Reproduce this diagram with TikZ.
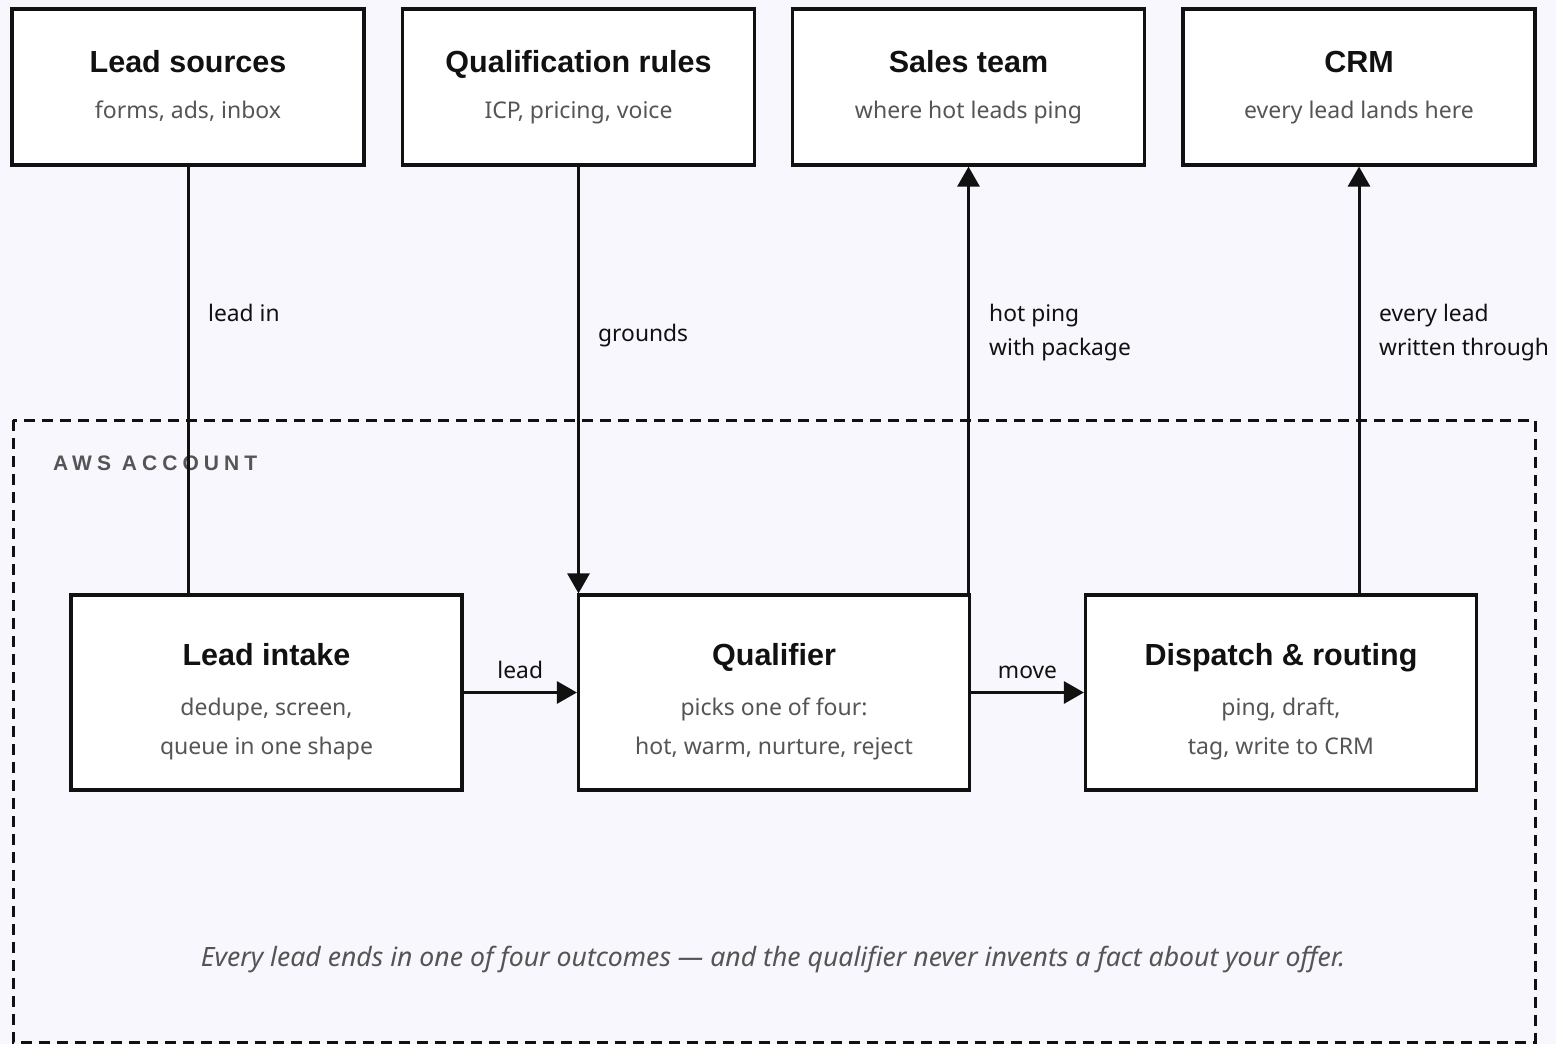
\documentclass[tikz,border=0pt]{standalone}
\usepackage{fontspec}
\setmainfont{Noto Sans}
\newfontfamily\headfont{Liberation Sans}
\newfontfamily\spacedfont[LetterSpace=24]{Liberation Sans}
\usetikzlibrary{arrows.meta,calc}
\definecolor{bg}{RGB}{248,247,253}
\definecolor{ink}{RGB}{17,17,17}
\definecolor{muted}{RGB}{85,85,85}

\begin{document}
\begin{tikzpicture}[x=1pt,y=-1pt,
  box/.style={draw=ink, line width=3.2pt, fill=white, inner sep=0pt},
  topbox/.style={box, minimum width=352pt, minimum height=156pt},
  midbox/.style={box, minimum width=391pt, minimum height=195pt},
  ttl/.style={font=\fontsize{30.5}{34}\selectfont\headfont\bfseries, text=ink, inner sep=0pt, anchor=base},
  sub/.style={font=\fontsize{23}{27}\selectfont, text=muted, inner sep=0pt, anchor=base},
  lbl/.style={font=\fontsize{22.8}{27}\selectfont, text=ink, inner sep=0pt, anchor=base west},
  link/.style={draw=ink, line width=3pt},
  flow/.style={link, -{Triangle[length=20pt,width=22pt]}},
]
% canvas
\fill[bg] (0,0) rectangle (1556,1044);
\useasboundingbox (0,0) rectangle (1556,1044);

% account boundary
\draw[ink, line width=3pt, dash pattern=on 11pt off 7pt] (13,420) rectangle (1535,1042);
\node[anchor=base west, inner sep=0pt, text=muted, font=\fontsize{21}{24}\selectfont\spacedfont\bfseries] (acct) at (53,470) {AWS ACCOUNT};

% external systems
\node[topbox] (ls)  at (188,87)    {};
\node[topbox] (qr)  at (578.5,87)  {};
\node[topbox] (st)  at (968.5,87)  {};
\node[topbox] (crm) at (1359,87)   {};

\node[ttl] (ls-t)  at ($(ls)+(0,-15)$)  {Lead sources};
\node[sub] (ls-s)  at ($(ls)+(0,31)$)   {forms, ads, inbox};
\node[ttl] (qr-t)  at ($(qr)+(0,-15)$)  {Qualification rules};
\node[sub] (qr-s)  at ($(qr)+(0,31)$)   {ICP, pricing, voice};
\node[ttl] (st-t)  at ($(st)+(0,-15)$)  {Sales team};
\node[sub] (st-s)  at ($(st)+(0,31)$)   {where hot leads ping};
\node[ttl] (crm-t) at ($(crm)+(0,-15)$) {CRM};
\node[sub] (crm-s) at ($(crm)+(0,31)$)  {every lead lands here};

% pipeline inside the account
\node[midbox] (li) at (266.5,692.5) {};
\node[midbox] (q)  at (774,692.5)   {};
\node[midbox] (d)  at (1281,692.5)  {};

\node[ttl] (li-t)  at ($(li)+(0,-27.5)$) {Lead intake};
\node[sub] (li-s1) at ($(li)+(0,23)$)    {dedupe, screen,};
\node[sub] (li-s2) at ($(li)+(0,62)$)    {queue in one shape};
\node[ttl] (q-t)   at ($(q)+(0,-27.5)$)  {Qualifier};
\node[sub] (q-s1)  at ($(q)+(0,23)$)     {picks one of four:};
\node[sub] (q-s2)  at ($(q)+(0,62)$)     {hot, warm, nurture, reject};
\node[ttl] (d-t)   at ($(d)+(0,-27.5)$)  {Dispatch \& routing};
\node[sub] (d-s1)  at ($(d)+(0,23)$)     {ping, draft,};
\node[sub] (d-s2)  at ($(d)+(0,62)$)     {tag, write to CRM};

% connectors
\draw[link] (ls.south) -- (ls.south |- li.north);
\draw[flow] (qr.south) -- (qr.south |- q.north);
\draw[flow] (st.south |- q.north) -- (st.south);
\draw[flow] (crm.south |- d.north) -- (crm.south);
\draw[flow] (li.east) -- coordinate[midway] (lead-c) (q.west);
\draw[flow] (q.east) -- coordinate[midway] (move-c) (d.west);

% connector labels
\node[lbl, anchor=base] (lead-l) at ($(lead-c)+(0,-14.5)$) {lead};
\node[lbl, anchor=base] (move-l) at ($(move-c)+(0,-14.5)$) {move};
\node[lbl] (in-l)    at (208,321)  {lead in};
\node[lbl] (gr-l)    at (598,341)  {grounds};
\node[lbl] (hot-l1)  at (989,321)  {hot ping};
\node[lbl] (hot-l2)  at (989,355)  {with package};
\node[lbl] (crm-l1)  at (1379,321) {every lead};
\node[lbl] (crm-l2)  at (1379,355) {written through};

% footnote
\node[anchor=base, inner sep=0pt, text=muted, font=\fontsize{26.6}{30}\selectfont\itshape] (note) at (773,966)
  {Every lead ends in one of four outcomes — and the qualifier never invents a fact about your offer.};
\end{tikzpicture}
\end{document}
